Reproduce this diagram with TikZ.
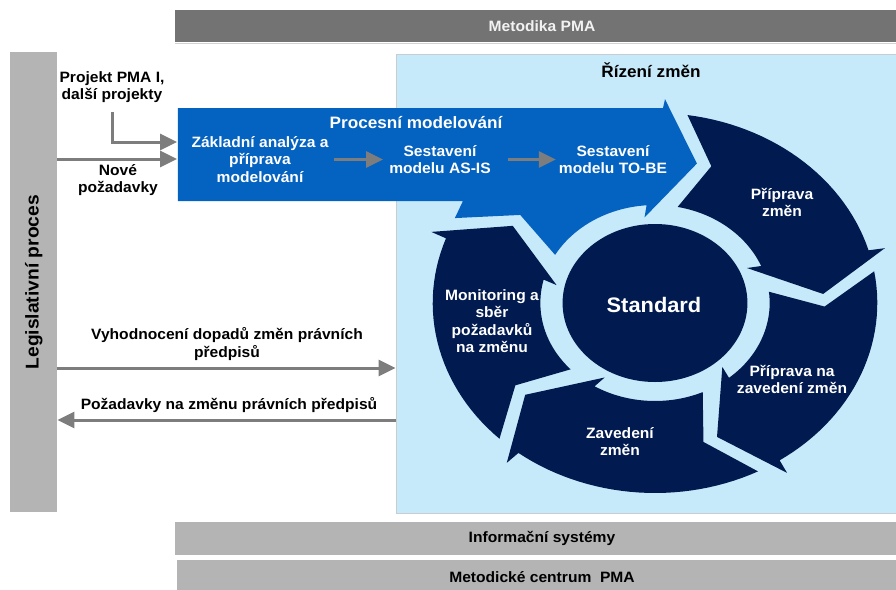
\documentclass[tikz,border=0pt]{standalone}
\usepackage{fontspec}
\setmainfont{Liberation Sans}[FakeStretch=1.04]
\usetikzlibrary{arrows.meta}
\definecolor{lblue}{RGB}{199,234,251}
\definecolor{pblue}{RGB}{4,98,192}
\definecolor{navy}{RGB}{1,26,79}
\definecolor{dgray}{RGB}{115,115,115}
\definecolor{lgray}{RGB}{180,180,180}
\definecolor{agray}{RGB}{125,125,125}
\definecolor{boxline}{RGB}{200,205,210}
\definecolor{offwhite}{RGB}{242,242,242}
\begin{document}
\begin{tikzpicture}[x=1pt,y=-1pt,
  txt/.style={font=\bfseries\fontsize{15}{17.5}\selectfont, align=center, inner sep=0pt},
  wtxt/.style={txt, text=white},
  garrow/.style={draw=agray, line width=3pt, -{Triangle[length=17pt,width=16pt]}},
  bar/.style={fill=lgray, inner sep=0pt, anchor=north west},
]
\useasboundingbox (0,0) rectangle (896,589);
\fill[white] (0,0) rectangle (896,589);

% top bar
\node[bar, fill=dgray, minimum width=721pt, minimum height=32pt] (mp) at (175,10) {};
\draw[lgray!60, line width=1pt] (175,43) -- (896,43);
\node[txt, text=offwhite] (t-mp) at (542,26) {Metodika PMA};

% left bar
\node[bar, minimum width=47pt, minimum height=460pt] (leg) at (10,52) {};
\node[txt, font=\bfseries\fontsize{18.5}{20}\selectfont, rotate=90] (t-leg) at (leg.center) {Legislativní proces};

% light blue box
\node[bar, fill=lblue, draw=boxline, line width=1.3pt, minimum width=502pt, minimum height=459pt] (rz) at (395.5,53.5) {};
\node[txt, font=\bfseries\fontsize{16.5}{18}\selectfont] (t-rz) at (651,70) {Řízení změn};

% bottom bars
\node[bar, minimum width=721pt, minimum height=33pt] (is) at (175,522) {};
\node[txt] (t-is) at (542,538.5) {Informační systémy};
\node[bar, minimum width=719pt, minimum height=32pt] (mc) at (177,560) {};
\node[txt] (t-mc) at (542,577) {Metodické centrum\ \ PMA};

% blue arrow corner points
\coordinate (bTL) at (178,108);
\coordinate (bTR) at (663,108);
\coordinate (bBR) at (463,201);
\coordinate (bBL) at (178,201);

% cycle
\begin{scope}[shift={(655,303)}, xscale=1.17]
  \fill[navy] (0,0) circle[radius=79];
  \foreach \T in {-3.6, 68.4, 140.4, 212.4} {
    \pgfmathsetmacro\angA{\T-78}
    \pgfmathsetmacro\angB{\T-12.5}
    \pgfmathsetmacro\angC{\T-12}
    \pgfmathsetmacro\angD{\T-20.4}
    \pgfmathsetmacro\angE{\T-18.6}
    \pgfmathsetmacro\angF{\T-75}
    \pgfmathsetmacro\angG{\T-67}
    \fill[navy] (\angA:190) -- plot[domain=\angA:\angB, samples=30] (\x:190)
      -- (\angC:204) -- (\T:144) -- (\angD:86) -- (\angE:98)
      -- plot[domain=\angE:\angF, samples=30] (\x:98) -- (\angG:145) -- cycle;
  }
  \fill[pblue] (bTL) -- (bTR) -- (272.4:204) -- (284.4:144) -- (264:86) -- (265.8:98)
    -- plot[domain=265.8:209.4, samples=30] (\x:98) -- (217.4:145) -- (206.4:191)
    -- (bBR) -- (bBL) -- cycle;
\end{scope}

% texts in cycle
\node[txt, text=white, font=\bfseries\fontsize{21}{24}\selectfont] (t-std) at (654,305) {Standard};
\node[wtxt] (t-prip) at (782,202.5) {Příprava\\změn};
\node[wtxt] (t-pripzav) at (792,379.5) {Příprava na\\zavedení změn};
\node[wtxt] (t-zav) at (620,441.5) {Zavedení\\změn};
\node[wtxt] (t-mon) at (492,321) {Monitoring a\\sběr\\požadavků\\na změnu};

% texts in blue arrow
\node[wtxt, font=\bfseries\fontsize{16.5}{18}\selectfont] (t-pm) at (416,123) {Procesní modelování};
\node[wtxt] (t-zakl) at (260,159.5) {Základní analýza a\\příprava\\modelování};
\node[wtxt] (t-asis) at (440,159.5) {Sestavení\\modelu AS-IS};
\node[wtxt] (t-tobe) at (613,159.5) {Sestavení\\modelu TO-BE};
\draw[garrow, shorten <=5pt, shorten >=6pt] (t-zakl.east) -- (t-asis.west);
\draw[garrow, shorten <=17pt, shorten >=3pt] (t-asis.east) -- (t-tobe.west);

% left texts and connectors
\node[txt] (t-proj) at (112,87) {Projekt PMA I,\\další projekty};
\node[txt] (t-nove) at (118,180) {Nové\\požadavky};
\coordinate (pm-in1) at (177,142);
\coordinate (pm-in2) at (177,159);
\draw[garrow, shorten <=9pt] (t-proj.south) |- (pm-in1);
\draw[garrow] (leg.east |- pm-in2) -- (pm-in2);

\node[txt] (t-vyh) at (227,344) {Vyhodnocení dopadů změn právních\\předpisů};
\node[txt] (t-poz) at (229,405) {Požadavky na změnu právních předpisů};
\coordinate (rv) at (rz.west |- 0,368);
\coordinate (rp) at (rz.west |- 0,420);
\draw[garrow] (leg.east |- rv) -- (rv);
\draw[garrow] (rp) -- (leg.east |- rp);
\end{tikzpicture}
\end{document}
